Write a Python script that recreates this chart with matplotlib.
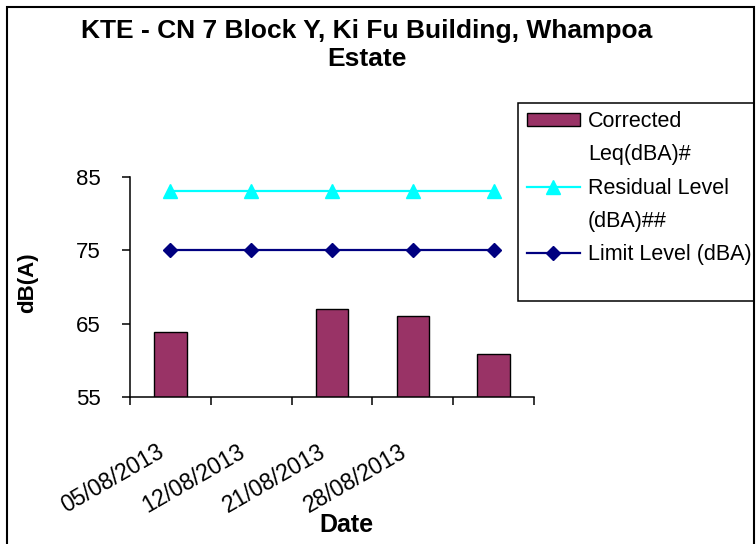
import matplotlib
matplotlib.use('Agg')
import matplotlib.pyplot as plt
from matplotlib.patches import Rectangle
from matplotlib.lines import Line2D
from matplotlib.transforms import ScaledTranslation
import numpy as np

plt.rcParams['font.family'] = ['Liberation Sans', 'DejaVu Sans']

# Chart data
dates = ['05/08/2013', '12/08/2013', '21/08/2013', '28/08/2013', '']
corrected_leq = [63.8, np.nan, 67.0, 66.0, 60.8]
residual_level = [83.1, 83.1, 83.1, 83.1, 83.1]
limit_level = [75, 75, 75, 75, 75]
y_ticks = [55, 65, 75, 85]

W, H = 756, 544

def fx(px):
    return px / W

def fy(py):
    return 1 - py / H

fig = plt.figure(figsize=(W / 100, H / 100), dpi=100)
ax = fig.add_axes([fx(130), fy(397), (534 - 130) / W, (397 - 177) / H])

x = np.arange(len(dates))

bars = ax.bar(x, corrected_leq, width=0.4, color='#993366', edgecolor='black',
              linewidth=1.0, zorder=2)
res_line, = ax.plot(x, residual_level, color='#00FFFF', marker='^', markersize=9.5,
                    linewidth=1.6, zorder=3)
lim_line, = ax.plot(x, limit_level, color='#000080', marker='D', markersize=7,
                    linewidth=1.6, zorder=3)

ax.set_xlim(-0.5, len(dates) - 0.5)
ax.set_ylim(55, 85)
ax.set_yticks(y_ticks)

# tick marks between categories, labels at category centres
ax.set_xticks(np.arange(-0.5, len(dates), 1.0))
ax.set_xticklabels([])
ax.set_xticks(x, minor=True)
ax.set_xticklabels(dates, minor=True, rotation=30, ha='right', va='top',
                   rotation_mode='anchor', fontsize=16.5)
ax.tick_params(axis='x', which='minor', length=0, pad=31)
ax.tick_params(axis='x', which='major', length=6, width=1.1, direction='out')
ax.tick_params(axis='y', length=6, width=1.1, direction='out', labelsize=16, pad=15)
for lbl in ax.get_xticklabels(minor=True):
    lbl.set_transform(lbl.get_transform() + ScaledTranslation(-0.14, 0, fig.dpi_scale_trans))

for side in ['top', 'right']:
    ax.spines[side].set_visible(False)
for side in ['left', 'bottom']:
    ax.spines[side].set_linewidth(1.1)

ax.set_ylabel('dB(A)', fontsize=16, fontweight='bold', va='center')
ax.yaxis.set_label_coords((27.5 - 130) / 404, (397 - 283) / 220)
ax.set_xlabel('Date', fontsize=18, fontweight='bold')
ax.xaxis.set_label_coords((346 - 130) / 404, -(513 - 397) / 220)

fig.text(fx(366.7), fy(19), 'KTE - CN 7 Block Y, Ki Fu Building, Whampoa\nEstate',
         ha='center', va='top', fontsize=19, fontweight='bold', linespacing=1.2)

# legend: one row per text line so the symbols sit beside the first line
blank = Line2D([], [], color='none')
leg = fig.legend([bars, blank, res_line, blank, lim_line],
                 ['Corrected', 'Leq(dBA)#', 'Residual Level', '(dBA)##', 'Limit Level (dBA)'],
                 loc='upper left', bbox_to_anchor=(fx(518), fy(102.5)),
                 fontsize=15.5, frameon=False, handlelength=2.47, handleheight=0.5,
                 handletextpad=0.37, borderpad=0.4, labelspacing=0.57, borderaxespad=0)

# legend box and outer chart border
fig.patches.append(Rectangle((fx(518), fy(300.5)), (754 - 518) / W, (300.5 - 102.5) / H,
                             transform=fig.transFigure, fill=False, edgecolor='black',
                             linewidth=1.1))
fig.patches.append(Rectangle((fx(6.5), fy(560)), (754 - 6.5) / W, (560 - 6.5) / H,
                             transform=fig.transFigure, fill=False, edgecolor='black',
                             linewidth=1.5))

fig.savefig('out.png', dpi=100)
